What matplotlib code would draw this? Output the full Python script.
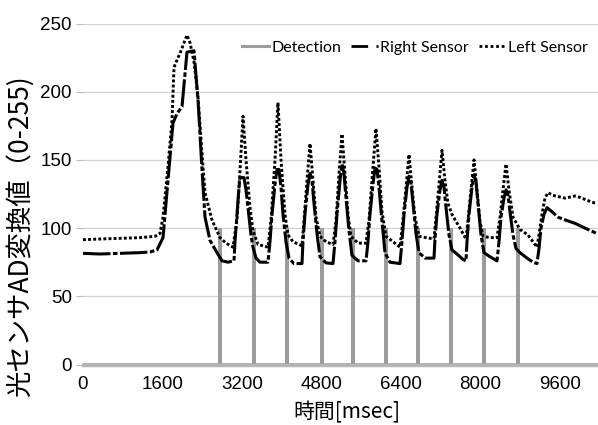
import numpy as np
import matplotlib.pyplot as plt
from matplotlib.lines import Line2D

plt.rcParams['font.family'] = ['Liberation Sans', 'Noto Sans CJK JP', 'DejaVu Sans']

# Left sensor (dotted) [msec], [AD value]
left_t = [0, 342, 744, 1147, 1449, 1549, 1610, 1710, 1791, 1831, 1972, 2092, 2153, 2233, 2314, 2394, 2455, 2595, 2756, 2877, 3018,
          3098, 3159, 3219, 3280, 3360, 3420, 3521, 3722,
          3783, 3863, 3923, 3984, 4064, 4125, 4225, 4406,
          4446, 4507, 4567, 4628, 4688, 4768, 4889, 5030,
          5090, 5151, 5211, 5271, 5332, 5392, 5533, 5694,
          5754, 5835, 5895, 5955, 6016, 6096, 6237, 6378,
          6438, 6499, 6559, 6619, 6680, 6760, 6901, 7062,
          7102, 7163, 7223, 7283, 7344, 7424, 7585, 7706,
          7746, 7807, 7867, 7927, 7988, 8048, 8189, 8330,
          8390, 8450, 8511, 8571, 8652, 8792, 8953, 9134,
          9195, 9235, 9295, 9356, 9456, 9698, 9899, 9999, 10241, 10342]
left_v = [91.5, 92, 92.5, 93, 94, 96, 108, 145, 179, 218, 230, 241.5, 236, 222, 196, 155, 126, 106, 93, 89, 86,
          106, 142, 182, 150, 115, 98, 88, 86,
          106, 150, 192, 150, 110, 95, 90, 87,
          105, 135, 162, 135, 108, 94, 90, 88,
          105, 140, 169, 140, 110, 94, 89, 89,
          106, 145, 173, 145, 112, 94, 90, 86,
          106, 130, 154, 130, 108, 94, 93, 92,
          108, 132, 157, 135, 118, 110, 100, 92,
          106, 128, 150, 128, 105, 94, 93, 93,
          108, 128, 147, 128, 108, 99, 95, 86,
          100, 110, 122, 126, 124, 122, 123.5, 122.5, 119, 118]

# Right sensor (dash-dot)
right_t = [0, 342, 744, 1147, 1348, 1489, 1610, 1710, 1811, 1891, 1992, 2092, 2233, 2314, 2394, 2455, 2555, 2696, 2797, 2917, 3038,
           3058, 3098, 3139, 3159, 3239, 3280, 3320, 3380, 3420, 3481, 3561, 3722,
           3762, 3803, 3863, 3903, 3943, 3984, 4024, 4084, 4145, 4245, 4406,
           4426, 4466, 4527, 4567, 4607, 4648, 4708, 4768, 4889, 5030,
           5070, 5110, 5171, 5211, 5251, 5292, 5352, 5412, 5533, 5694,
           5734, 5774, 5835, 5875, 5915, 5955, 6016, 6076, 6177, 6378,
           6418, 6459, 6519, 6559, 6599, 6640, 6700, 6760, 6881, 7062,
           7082, 7122, 7183, 7223, 7263, 7304, 7364, 7424, 7525, 7646, 7706,
           7726, 7766, 7827, 7867, 7907, 7947, 8008, 8068, 8189, 8330,
           8370, 8410, 8471, 8511, 8551, 8591, 8652, 8712, 8792, 8933, 9054, 9134,
           9175, 9215, 9275, 9336, 9436, 9557, 9738, 9899, 10100, 10342]
right_v = [81.5, 81, 81.5, 82, 82.5, 84, 93, 135, 177, 184, 189, 229, 230, 194, 143, 108, 91, 82, 76, 75, 76,
           90, 110, 130, 137, 137, 128, 115, 95, 86, 78, 75, 75,
           90, 110, 132, 143, 143, 130, 110, 90, 78, 74, 74,
           90, 110, 132, 140, 135, 118, 96, 79, 74.5, 74,
           90, 110, 135, 147, 140, 122, 98, 80, 76, 76,
           90, 110, 132, 144, 143, 130, 105, 82, 75, 74,
           90, 110, 130, 138, 133, 118, 96, 82, 78, 78,
           92, 110, 128, 135, 130, 115, 95, 84, 81, 77, 76,
           90, 110, 130, 139, 134, 118, 95, 82, 79, 76,
           90, 108, 122, 128, 124, 112, 95, 85, 82, 78, 75, 74,
           85, 100, 110, 115, 112, 108, 105.5, 103.5, 100, 96]

# Detection pulses
det_times = [2760, 3440, 4100, 4810, 5430, 6100, 6740, 7400, 8070, 8750]
det_level = 100
t_end = 10342

det_t, det_v = [0], [0]
for t in det_times:
    det_t += [t, t, t]
    det_v += [0, det_level, 0]
det_t.append(t_end)
det_v.append(0)

fig = plt.figure(figsize=(5.98, 4.25), dpi=100)
ax = fig.add_axes([83/598, 1-364.5/425, 1-83/598, 341/425])

gray = '#9c9c9c'
ax.plot(det_t, det_v, color=gray, lw=2.6, solid_joinstyle='miter', zorder=2)
ax.plot(right_t, right_v, color='black', lw=2.2, linestyle=(0, (9, 0.8, 1.5, 0.8)), zorder=3)
ax.plot(left_t, left_v, color='black', lw=2.1, linestyle=(0, (1, 0.75)), zorder=3)

ax.set_xlim(0, 10362)
ax.set_ylim(0, 250)
ax.set_yticks(np.arange(0, 251, 50))
ax.set_xticks(np.arange(0, 9601, 1600))
ax.grid(axis='y', color='#d4d4d4', lw=1)
ax.set_axisbelow(True)
for s in ['top', 'right', 'left']:
    ax.spines[s].set_visible(False)
ax.spines['bottom'].set_color('#b5b5b5')
ax.spines['bottom'].set_linewidth(2.5)
ax.tick_params(axis='y', length=5, color='#bdbdbd', labelsize=13.5, pad=3)
ax.tick_params(axis='x', length=0, labelsize=13.5, pad=8)

fig.text(20/598, 1-236/425, '光センサAD変換値（0-255)', rotation=90, ha='center', va='center',
         fontsize=19, family=['Noto Sans CJK JP', 'DejaVu Sans'])
fig.text(347/598, 1-412/425, '時間[msec]', ha='center', va='center',
         fontsize=15, family=['Noto Sans CJK JP', 'DejaVu Sans'])

handles = [Line2D([0], [0], color=gray, lw=2.2),
           Line2D([0], [0], color='black', lw=2.0, linestyle=(0, (6, 3, 1.5, 3))),
           Line2D([0], [0], color='black', lw=2.0, linestyle=(0, (1, 1)))]
ax.legend(handles, ['Detection', 'Right Sensor', 'Left Sensor'], loc='center right',
          bbox_to_anchor=(596/598, 1-48/425), bbox_transform=fig.transFigure, ncol=3,
          frameon=False, handlelength=1.7, handletextpad=0.15, columnspacing=0.6,
          borderpad=0, prop={'family': 'Lato', 'size': 11.5})

plt.savefig('out.png', dpi=100)
